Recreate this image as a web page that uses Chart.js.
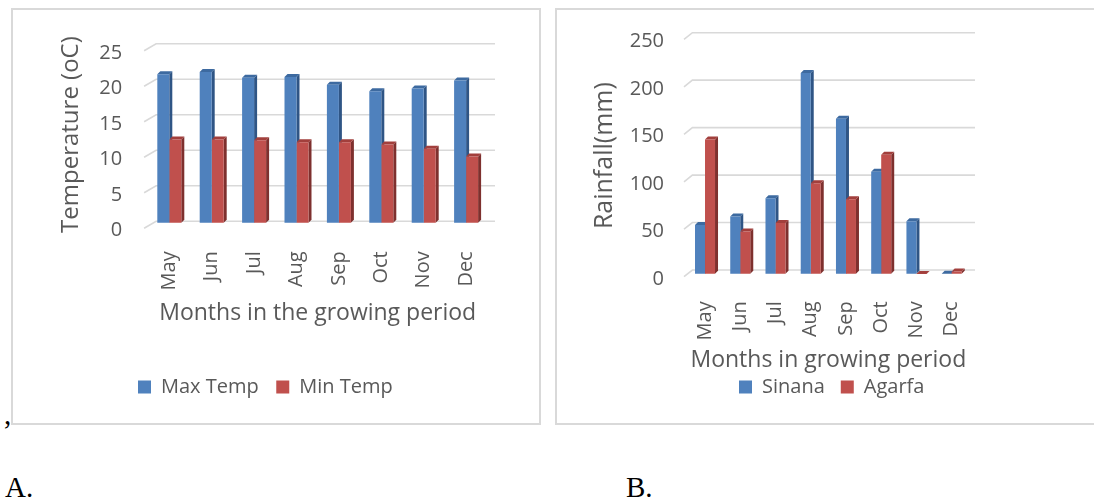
<!DOCTYPE html>
<html>
<head>
<meta charset="utf-8">
<script src="https://cdn.jsdelivr.net/npm/chart.js@4"></script>
<style>
    body { margin: 0; width: 1094px; height: 500px; background: #fff; position: relative; overflow: hidden; }
    .box { position: absolute; border: 2px solid #d9d9d9; box-sizing: border-box; }
    .wrap { position: absolute; }
    .note { position: absolute; font-family: "Liberation Serif", serif; font-size: 29px; line-height: 29px; color: #000; }
</style>
</head>
<body>
<div class="box" style="left:11px;top:8px;width:530px;height:417px"></div>
<div class="box" style="left:555px;top:8px;width:560px;height:417px"></div>
<div class="wrap" style="left:12px;top:9px"><canvas id="tempChart" width="529" height="416"></canvas></div>
<div class="wrap" style="left:556px;top:9px"><canvas id="rainChart" width="538" height="416"></canvas></div>
<div class="note" style="left:4px;top:400px">,</div>
<div class="note" style="left:5px;top:473px">A.</div>
<div class="note" style="left:626px;top:473px">B.</div>

<script>
var months = ["May", "Jun", "Jul", "Aug", "Sep", "Oct", "Nov", "Dec"];
var maxTemp = [21.0, 21.3, 20.5, 20.6, 19.5, 18.6, 19.0, 20.1];
var minTemp = [11.8, 11.8, 11.7, 11.4, 11.4, 11.1, 10.5, 9.4];
var sinana = [52, 61, 80, 212, 164, 108, 56, 0.5];
var agarfa = [142, 45, 54, 96, 79, 126, 0.3, 3];
var tempTicks = [0, 5, 10, 15, 20, 25];
var rainTicks = [0, 50, 100, 150, 200, 250];

var textColor = "#595959";
Chart.defaults.font.family = "'Open Sans', sans-serif";
Chart.defaults.color = textColor;

// back wall gridlines + side/top faces of the columns
var wall3d = {
    id: "wall3d",
    beforeDatasetsDraw: function (chart, args, opts) {
        var ctx = chart.ctx;
        var area = chart.chartArea;
        var y = chart.scales.y;
        ctx.save();
        ctx.strokeStyle = "#d9d9d9";
        ctx.lineWidth = 1.6;
        y.ticks.forEach(function (t) {
            var py = y.getPixelForValue(t.value);
            ctx.beginPath();
            ctx.moveTo(area.left + opts.fx, py + opts.fy);
            ctx.lineTo(area.left + opts.bx, py + opts.by);
            ctx.lineTo(area.right + opts.ex, py + opts.by);
            ctx.stroke();
        });
        var d = opts.depth;
        chart.data.datasets.forEach(function (ds, i) {
            chart.getDatasetMeta(i).data.forEach(function (bar) {
                var p = bar.getProps(["x", "y", "base", "width"], true);
                var l = p.x - p.width / 2, r = p.x + p.width / 2;
                ctx.fillStyle = ds.sideColor;
                ctx.beginPath();
                ctx.moveTo(r, p.base);
                ctx.lineTo(r, p.y);
                ctx.lineTo(r + d, p.y - d);
                ctx.lineTo(r + d, p.base - d);
                ctx.closePath();
                ctx.fill();
                ctx.fillStyle = ds.topColor;
                ctx.beginPath();
                ctx.moveTo(l, p.y);
                ctx.lineTo(l + d, p.y - d);
                ctx.lineTo(r + d, p.y - d);
                ctx.lineTo(r, p.y);
                ctx.closePath();
                ctx.fill();
            });
        });
        ctx.restore();
    }
};

// move the legend row to where the original sits
var legendPlace = {
    id: "legendPlace",
    afterLayout: function (chart, args, opts) {
        var lg = chart.legend;
        var pad = lg.options.labels.padding;
        var half = lg.options.labels.font.size / 2;
        var cx = (lg.left + pad + lg.right - lg.lineWidths[0]) / 2;
        var dx = opts.x - cx;
        var dy = opts.y - (lg.top + pad + half);
        lg.left += dx;
        lg.right += dx;
        lg.top += dy;
        lg.bottom += dy;
    }
};

function makeChart(id, s) {
    return new Chart(document.getElementById(id), {
        type: "bar",
        data: {
            labels: months,
            datasets: [
                {
                    label: s.names[0],
                    data: s.values[0],
                    backgroundColor: "#4f81bd",
                    sideColor: "#2f5585",
                    topColor: "#3d6aa0",
                    borderWidth: 0
                },
                {
                    label: s.names[1],
                    data: s.values[1],
                    backgroundColor: "#c0504d",
                    sideColor: "#7e302e",
                    topColor: "#a23f3c",
                    borderWidth: 0
                }
            ]
        },
        options: {
            responsive: false,
            animation: false,
            events: [],
            categoryPercentage: s.catPct,
            barPercentage: 1,
            layout: { padding: s.pad },
            scales: {
                x: {
                    grid: { display: false },
                    border: { display: false },
                    ticks: {
                        minRotation: 90,
                        maxRotation: 90,
                        padding: s.xTickPad,
                        font: { size: 20 }
                    },
                    title: {
                        display: true,
                        text: s.xTitle,
                        font: { size: 23 },
                        padding: { top: 0, bottom: s.xTitlePad }
                    },
                    afterFit: function (scale) { scale.height = s.xHeight; }
                },
                y: {
                    min: 0,
                    max: s.ticks[s.ticks.length - 1],
                    // invisible tick marks keep the labels away from the plot
                    grid: {
                        drawOnChartArea: false,
                        tickLength: s.yTickGap,
                        tickColor: "rgba(0,0,0,0)"
                    },
                    border: { display: false },
                    afterBuildTicks: function (scale) {
                        scale.ticks = s.ticks.map(function (v) { return { value: v }; });
                    },
                    ticks: {
                        padding: 0,
                        labelOffset: s.yLabelOffset,
                        font: { size: 20 }
                    },
                    title: {
                        display: true,
                        text: s.yTitle,
                        font: { size: s.yTitleSize },
                        padding: { top: s.yTitlePad, bottom: 0 }
                    },
                    afterFit: function (scale) { scale.width = s.yWidth; }
                }
            },
            plugins: {
                tooltip: { enabled: false },
                legend: {
                    position: "bottom",
                    labels: {
                        boxWidth: 13,
                        boxHeight: 13,
                        padding: s.legendPad,
                        font: { size: 20 }
                    }
                },
                legendPlace: s.legendAt,
                wall3d: s.wall
            }
        },
        plugins: [wall3d, legendPlace]
    });
}

makeChart("tempChart", {
    names: ["Max Temp", "Min Temp"],
    values: [maxTemp, minTemp],
    ticks: tempTicks,
    xTitle: "Months in the growing period",
    yTitle: "Temperature (oC)",
    yTitleSize: 24,
    catPct: 0.566,
    pad: { left: 20, right: 53.7, top: 36.8, bottom: 44.2 },
    yWidth: 116.1,
    yTickGap: 26,
    yLabelOffset: 7,
    yTitlePad: 25.2,
    xHeight: 110,
    xTickPad: 20,
    xTitlePad: 6,
    legendPad: 17.5,
    legendAt: { x: 126, y: 378 },
    wall: { fx: -4, fy: 5, bx: 8, by: -2, ex: 7.7, depth: 3 }
});

makeChart("rainChart", {
    names: ["Sinana", "Agarfa"],
    values: [sinana, agarfa],
    ticks: rainTicks,
    xTitle: "Months in growing period",
    yTitle: "Rainfall(mm)",
    yTitleSize: 25,
    catPct: 0.568,
    pad: { left: 20, right: 124.7, top: 28, bottom: 4.7 },
    yWidth: 111.4,
    yTickGap: 23.4,
    yLabelOffset: 4.5,
    yTitlePad: 14.2,
    xHeight: 100,
    xTickPad: 19,
    xTitlePad: 0,
    legendPad: 16,
    legendAt: { x: 183, y: 378 },
    wall: { fx: -3.4, fy: 2.4, bx: 5, by: -4.3, ex: 5.7, depth: 3 }
});
</script>
</body>
</html>
